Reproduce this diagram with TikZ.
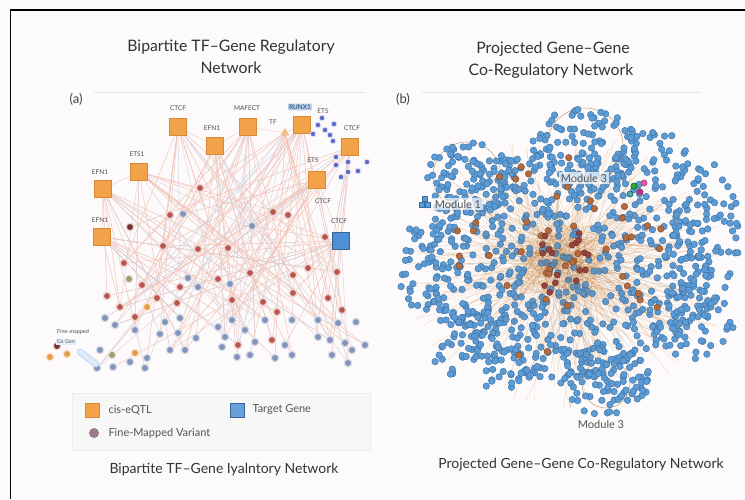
\documentclass[tikz,border=0pt]{standalone}
\usepackage{fontspec}
\setmainfont{Lato}
\usetikzlibrary{shapes.geometric}
\pgfdeclarelayer{bg}
\pgfsetlayers{bg,main}
\definecolor{sqorange}{HTML}{F2A248}
\definecolor{sqedge}{HTML}{D98A36}
\definecolor{tgblue}{HTML}{4E8FD6}
\definecolor{varred}{HTML}{B9554B}
\definecolor{vargray}{HTML}{8393BA}
\definecolor{edgepink}{HTML}{F2C4B8}
\definecolor{edgegray}{HTML}{D9D4DC}
\definecolor{dotblue}{HTML}{5C9BD3}
\definecolor{dotedge}{HTML}{3A70A6}
\definecolor{dotbrown}{HTML}{B46A3C}
\definecolor{txtgray}{HTML}{555555}
\definecolor{paper}{HTML}{FCFAFB}
\tikzset{
 tfbox/.style={rectangle, fill=sqorange, draw=sqedge, line width=.6pt, minimum size=17pt, inner sep=0pt},
 tgbox/.style={rectangle, fill=tgblue, draw=tgblue!70!black, line width=.6pt, minimum size=17pt, inner sep=0pt},
 glab/.style={font=\fontsize{6.5}{7}\selectfont, text=black!70, inner sep=1pt},
 vr/.style={circle, fill=varred, draw=varred!25, line width=1.4pt, minimum size=7.5pt, inner sep=0pt},
 vb/.style={circle, fill=vargray, draw=vargray!30, line width=1.2pt, minimum size=7.5pt, inner sep=0pt},
 vd/.style={circle, fill=varred!60!black, draw=varred!25, line width=1.2pt, minimum size=7.5pt, inner sep=0pt},
 vg/.style={circle, fill=black!40!olive!60, draw=black!10, line width=1.2pt, minimum size=7.5pt, inner sep=0pt},
 vo/.style={circle, fill=sqorange!80!brown, draw=sqorange!30, line width=1.2pt, minimum size=7.5pt, inner sep=0pt},
 vs/.style={circle, fill=vargray!70!blue, draw=vargray!30, line width=.8pt, minimum size=5.5pt, inner sep=0pt},
 bpedge/.style={draw=edgepink, line width=.5pt},
 bpgray/.style={draw=edgegray, line width=.45pt},
 hbedge/.style={draw=brown!60!orange, opacity=.28, line width=.35pt},
 hbdot/.style={fill=dotblue, draw=dotedge, line width=.4pt},
 ttl/.style={font=\fontsize{15.8}{18}\selectfont, text=black!80, anchor=base},
 captext/.style={font=\fontsize{14}{16}\selectfont, text=black!80, anchor=base},
 modlab/.style={font=\fontsize{11}{12}\selectfont, text=txtgray, fill=white, fill opacity=.7, text opacity=1, inner sep=1.5pt},
 legtxt/.style={font=\fontsize{11}{12}\selectfont, text=txtgray, anchor=west},
}
\begin{document}
\begin{tikzpicture}[x=1pt,y=-1pt]
\useasboundingbox (0,0) rectangle (745,499);
\begin{pgfonlayer}{bg}
\fill[paper] (0,0) rectangle (745,499);
\end{pgfonlayer}
% frame
\draw[line width=1.8pt, black] (745,10) -- (10.5,10) -- (10.5,499);

% ---------- panel (a) ----------
\node[ttl] (ttla1) at (231,51) {Bipartite TF–Gene Regulatory};
\node[ttl] (ttla2) at (231,73) {Network};
\node[font=\fontsize{13}{14}\selectfont, text=black!75] (pa) at (76,99) {(a)};
\draw[black!10, line width=.5pt] (94,92) -- (365,92);

% TF squares
\node[tfbox] (s1) at (178,127) {};
\node[tfbox] (s2) at (215,146) {};
\node[tfbox] (s3) at (248,127) {};
\node[tfbox] (s4) at (302,125) {};
\node[tfbox] (s5) at (350,147) {};
\node[tfbox] (s6) at (139,172) {};
\node[tfbox] (s7) at (103,189) {};
\node[tfbox] (s8) at (317,180) {};
\node[tfbox] (s9) at (102,237) {};
\node[tgbox] (t1) at (341,241) {};
\node[regular polygon, regular polygon sides=3, fill=sqorange!70, draw=sqedge!60, inner sep=0pt, minimum size=9pt] (tf) at (285,133) {};

\node[glab] (l1) at (178,108) {CTCF};
\node[glab] (l2) at (212,128) {EFN1};
\node[glab] (l3) at (247,108) {MAFECT};
\node[glab] (l4) at (273,122) {TF};
\node[glab, fill=tgblue!40, text=tgblue!40!black, rounded corners=1pt] (l5) at (300,107) {RUNX1};
\node[glab] (l5b) at (323,111) {ETS};
\node[glab] (l6) at (352,128) {CTCF};
\node[glab] (l7) at (137,154) {ETS1};
\node[glab] (l8) at (100,172) {EFN1};
\node[glab] (l9) at (313,160) {ETS};
\node[glab] (l10) at (323,201) {CTCF};
\node[glab] (l11) at (100,220) {EFN1};
\node[glab] (l12) at (339,221) {CTCF};

% small blue cluster
\foreach \x/\y [count=\i] in {322/118,318/125,325/130,313/134,330/135,334/124,333/141,336/157,348/162,367/162,341/177,348/172,358/171,336/165}
  \node[vs] (q\i) at (\x,\y) {};

% variant circles
\foreach \x/\y/\t [count=\i] in {
200/188/vr,170/215/vr,273/212/vr,288/215/vr,325/237/vr,163/246/vr,198/249/vr,228/248/vr,
124/263/vr,142/285/vr,107/296/vr,180/287/vr,218/279/vr,250/273/vr,232/300/vr,263/302/vr,
277/312/vr,293/293/vr,308/268/vr,337/272/vr,328/298/vr,342/310/vr,293/275/vr,157/298/vr,
120/307/vr,135/317/vr,177/303/vr,238/345/vr,272/340/vr,
183/214/vb,252/226/vb,188/278/vb,198/287/vb,230/284/vb,105/318/vb,115/325/vb,135/330/vb,
165/322/vb,180/318/vb,160/334/vb,178/333/vb,196/338/vb,218/327/vb,232/320/vb,245/330/vb,
265/320/vb,292/320/vb,318/320/vb,338/323/vb,356/322/vb,225/337/vb,255/342/vb,285/345/vb,
318/337/vb,330/340/vb,345/343/vb,365/345/vb,100/350/vb,147/358/vb,130/362/vb,145/368/vb,
97/368/vb,113/367/vb,170/350/vb,185/350/vb,222/347/vb,237/357/vb,250/355/vb,275/358/vb,
292/355/vb,332/355/vb,352/350/vb,348/363/vb,
130/227/vd,57/346/vd,129/279/vg,112/355/vg,147/307/vo,135/353/vo,50/357/vo,67/354/vo}
  \node[\t] (c\i) at (\x,\y) {};

% bipartite edges
\pgfmathsetseed{11}
\begin{pgfonlayer}{bg}
\foreach \s in {s1,s2,s3,s4,s5,s6,s7,s8,s9,t1,tf}{
  \foreach \k in {1,...,10}{
    \pgfmathrandominteger{\n}{1}{74}
    \draw[bpedge] (\s) -- (c\n);
  }
  \foreach \k in {1,...,4}{
    \pgfmathrandominteger{\n}{1}{74}
    \draw[bpgray] (\s) -- (c\n);
  }
}
\foreach \a/\b in {s1/s2,s2/s3,s3/tf,tf/s4,s6/s7,s7/s9,s8/t1,c1/c6,c2/c9,c3/c14,c4/c19,c8/c15,c13/c17,c20/c22}
  \draw[draw=edgepink!80, line width=.5pt] (\a) -- (\b);
\end{pgfonlayer}

% fine-mapped annotation
\node[font=\fontsize{5.5}{6}\selectfont, text=black!70, inner sep=0pt] (fm1) at (73,332) {Fine-mapped};
\node[font=\fontsize{5.5}{6}\selectfont, text=black!60, fill=tgblue!15, inner sep=.8pt] (fm2) at (66,342) {Gx Gen};
\node[rounded corners=3pt, draw=tgblue!50, fill=tgblue!18, rotate=-38, minimum width=26pt, minimum height=6pt, inner sep=0pt] (pill) at (88,358) {};

% legend
\node[draw=black!7, fill=black!3, minimum width=298pt, minimum height=57pt, anchor=north west, inner sep=0pt] (legend) at (72,393) {};
\node[rectangle, fill=sqorange, draw=sqedge, minimum size=14pt, inner sep=0pt, line width=.4pt] (lg1) at (92,410) {};
\node[legtxt] (lt1) at (105,410) {cis-eQTL};
\node[rectangle, fill=tgblue!85, draw=tgblue!70!black, minimum size=14pt, inner sep=0pt, line width=.4pt] (lg2) at (237,410) {};
\node[legtxt] (lt2) at (249,410) {Target Gene};
\node[circle, fill=vargray!60!varred, minimum size=10pt, inner sep=0pt] (lg3) at (94,433) {};
\node[legtxt] (lt3) at (105,433) {Fine-Mapped Variant};
\node[captext] (capa) at (224,473) {Bipartite TF–Gene Iyalntory Network};

% ---------- panel (b) ----------
\node[ttl] (ttlb1) at (553,53) {Projected Gene–Gene};
\node[ttl] (ttlb2) at (551,75) {Co-Regulatory Network};
\node[font=\fontsize{13}{14}\selectfont, text=black!75] (pb) at (403,99) {(b)};
\draw[black!10, line width=.5pt] (422,92) -- (700,92);

\pgfmathsetseed{42}
% hairball edges (under)
\foreach \k in {1,...,360}{
  \pgfmathsetmacro\aa{360*rnd}\pgfmathsetmacro\ra{40*sqrt(rnd)}
  \pgfmathsetmacro\ab{360*rnd}\pgfmathsetmacro\rb{sqrt(rnd)}
  \draw[hbedge] ({560+\ra*cos(\aa)},{262+\ra*sin(\aa)}) -- ({567+165*\rb*cos(\ab)},{268+140*\rb*sin(\ab)});
}
% module circles
\draw[brown!70, line width=.6pt] (585,146) circle (38);
\draw[brown!70, line width=.6pt] (467,176) circle (34);
\draw[brown!70, line width=.6pt] (606,384) circle (24);
% blue dots in lobes
\foreach \cx/\cy/\rx/\ry/\n in {565/265/145/115/620, 585/150/55/42/110, 467/180/45/38/90, 703/235/38/75/95, 695/320/40/40/50, 605/380/45/35/90, 490/345/65/45/90, 425/265/30/45/50, 650/160/40/30/40}{
  \foreach \k in {1,...,\n}{
    \pgfmathsetmacro\ang{360*rnd}\pgfmathsetmacro\rr{sqrt(rnd)}
    \filldraw[hbdot] ({\cx+\rx*\rr*cos(\ang)},{\cy+\ry*\rr*sin(\ang)}) circle (3.3);
  }
}
% edges over dots in the centre
\foreach \k in {1,...,220}{
  \pgfmathsetmacro\aa{360*rnd}\pgfmathsetmacro\ra{30*sqrt(rnd)}
  \pgfmathsetmacro\ab{360*rnd}\pgfmathsetmacro\rb{sqrt(rnd)}
  \draw[draw=brown!70!black, opacity=.2, line width=.3pt] ({558+\ra*cos(\aa)},{262+\ra*sin(\aa)}) -- ({565+145*\rb*cos(\ab)},{268+120*\rb*sin(\ab)});
}
% brown hub dots
\foreach \k in {1,...,45}{
  \pgfmathsetmacro\ang{360*rnd}\pgfmathsetmacro\rr{sqrt(rnd)}
  \filldraw[fill=dotbrown, draw=dotbrown!60!black, line width=.3pt] ({560+120*\rr*cos(\ang)},{265+110*\rr*sin(\ang)}) circle (3.3);
}
\foreach \k in {1,...,18}{
  \pgfmathsetmacro\ang{360*rnd}\pgfmathsetmacro\rr{sqrt(rnd)}
  \filldraw[fill=varred!80!black, draw=varred!50!black, line width=.3pt] ({555+35*\rr*cos(\ang)},{258+35*\rr*sin(\ang)}) circle (3.1);
}
% colourful spot
\filldraw[fill=green!55!black!80, draw=green!30!black] (634,186) circle (3.2);
\filldraw[fill=magenta!80!black, draw=magenta!40!black] (640,192) circle (3.2);
\filldraw[fill=teal!70, draw=teal!50!black] (630,194) circle (3.2);
\filldraw[fill=magenta!70, draw=magenta!40!black] (644,183) circle (3.2);

% module labels
\filldraw[fill=dotblue, draw=dotedge, line width=.35pt] (419,202) rectangle (424,207);
\filldraw[fill=dotblue, draw=dotedge, line width=.35pt] (425,202) rectangle (430,207);
\filldraw[fill=dotblue, draw=dotedge, line width=.35pt] (422,196) rectangle (427,201);
\node[modlab] (m1) at (458,204) {Module 1};
\node[modlab] (m3a) at (584,178) {Module 3};
\coordinate (m3tick) at (571,408);
\node[font=\fontsize{11}{12}\selectfont, text=txtgray] (m3b) at (601,424) {Module 3};
\draw[brown!70, line width=.5pt] (m3tick) -- ++(-2,-8);
\node[captext] (capb) at (581,468) {Projected Gene–Gene Co-Regulatory Network};
\end{tikzpicture}
\end{document}
